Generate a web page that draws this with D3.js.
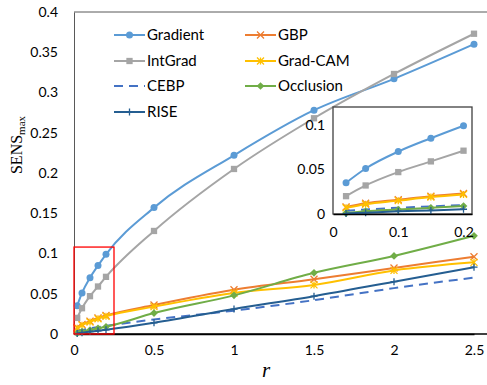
<!DOCTYPE html>
<html>
<head>
<meta charset="utf-8">
<script src="https://cdn.jsdelivr.net/npm/d3@7"></script>
<style>
body { margin: 0; background: #fff; }
text { font-family: Lato, "Liberation Sans", sans-serif; }
</style>
</head>
<body>
<div id="chart"></div>
<script>
// data
var r_values = [0.02, 0.05, 0.1, 0.15, 0.2, 0.5, 1, 1.5, 2, 2.5]
var gradient = [0.035, 0.051, 0.070, 0.085, 0.099, 0.157, 0.222, 0.278, 0.317, 0.360]
var gbp = [0.008, 0.012, 0.016, 0.020, 0.023, 0.036, 0.055, 0.068, 0.082, 0.096]
var intgrad = [0.020, 0.032, 0.047, 0.059, 0.071, 0.128, 0.205, 0.268, 0.323, 0.373]
var gradcam = [0.007, 0.011, 0.015, 0.019, 0.022, 0.034, 0.051, 0.061, 0.079, 0.089]
var cebp = [0.0035, 0.005, 0.007, 0.0085, 0.010, 0.018, 0.029, 0.042, 0.057, 0.070]
var occlusion = [0.001, 0.003, 0.005, 0.007, 0.009, 0.026, 0.048, 0.076, 0.097, 0.122]
var rise = [0.0005, 0.0015, 0.003, 0.004, 0.0053, 0.014, 0.031, 0.047, 0.065, 0.083]

var x_ticks = [0, 0.5, 1, 1.5, 2, 2.5]
var y_ticks = [0, 0.05, 0.1, 0.15, 0.2, 0.25, 0.3, 0.35, 0.4]
var inset_x_ticks = [0, 0.1, 0.2]
var inset_y_ticks = [0, 0.05, 0.1]

var series = [
    {name: "Gradient", values: gradient, color: "#5B9BD5", marker: "circle"},
    {name: "GBP", values: gbp, color: "#ED7D31", marker: "x"},
    {name: "IntGrad", values: intgrad, color: "#A5A5A5", marker: "square"},
    {name: "Grad-CAM", values: gradcam, color: "#FFC000", marker: "star"},
    {name: "CEBP", values: cebp, color: "#4472C4", marker: "none", dash: "9,6"},
    {name: "Occlusion", values: occlusion, color: "#70AD47", marker: "diamond"},
    {name: "RISE", values: rise, color: "#255E91", marker: "plus"}
]

var width = 487, height = 385
var svg = d3.select("#chart").append("svg")
    .attr("width", width)
    .attr("height", height)

var x = d3.scaleLinear().domain([0, 2.5]).range([74, 474])
var y = d3.scaleLinear().domain([0, 0.4]).range([334, 12])

// plot frame (top edge runs off the right side)
svg.append("line")
    .attr("x1", 74).attr("x2", width).attr("y1", 12).attr("y2", 12)
    .attr("stroke", "#595959").attr("stroke-width", 1)
svg.append("line")
    .attr("x1", 74).attr("x2", width).attr("y1", 334).attr("y2", 334)
    .attr("stroke", "#000").attr("stroke-width", 1.3)

var yAxis = svg.append("g")
    .attr("transform", "translate(74,0)")
    .call(d3.axisLeft(y).tickValues(y_ticks).tickSize(0).tickPadding(16).tickFormat(d3.format("")))
yAxis.select(".domain").attr("stroke", "#595959")

var xAxis = svg.append("g")
    .attr("transform", "translate(0,334)")
    .call(d3.axisBottom(x).tickValues(x_ticks).tickSize(0).tickPadding(11).tickFormat(d3.format("")))
xAxis.select(".domain").attr("stroke", "#000").attr("stroke-width", 1.3)

svg.selectAll(".tick text").attr("font-size", "14px").attr("fill", "#000")
    .style("font-family", "Lato, sans-serif")

// axis titles
var ylab = svg.append("text")
    .attr("transform", "translate(22,145) rotate(-90)")
    .attr("text-anchor", "middle")
    .style("font-family", "'Liberation Serif', serif")
    .attr("font-size", "16px")
ylab.append("tspan").text("SENS")
ylab.append("tspan").attr("font-size", "11px").attr("dy", 3).text("max")

svg.append("text")
    .attr("x", 266).attr("y", 377)
    .attr("text-anchor", "middle")
    .style("font-family", "'Liberation Serif', serif")
    .style("font-style", "italic")
    .attr("font-size", "21px")
    .text("r")

function draw_marker(g, kind, color, cx, cy, s) {
    if (kind == "circle") {
        g.append("circle").attr("cx", cx).attr("cy", cy).attr("r", s * 0.5).attr("fill", color)
    } else if (kind == "square") {
        g.append("rect").attr("x", cx - s * 0.45).attr("y", cy - s * 0.45)
            .attr("width", s * 0.9).attr("height", s * 0.9).attr("fill", color)
    } else if (kind == "diamond") {
        var h = s * 0.55
        g.append("path").attr("d", "M" + cx + "," + (cy - h) + "L" + (cx + h) + "," + cy +
            "L" + cx + "," + (cy + h) + "L" + (cx - h) + "," + cy + "Z").attr("fill", color)
    } else if (kind == "x" || kind == "star") {
        var h = s * 0.5
        var d = "M" + (cx - h) + "," + (cy - h) + "L" + (cx + h) + "," + (cy + h) +
            "M" + (cx - h) + "," + (cy + h) + "L" + (cx + h) + "," + (cy - h)
        if (kind == "star") d += "M" + cx + "," + (cy - h) + "L" + cx + "," + (cy + h)
        g.append("path").attr("d", d).attr("stroke", color).attr("stroke-width", 1.3).attr("fill", "none")
    } else if (kind == "plus") {
        var h = s * 0.5
        g.append("path").attr("d", "M" + cx + "," + (cy - h) + "L" + cx + "," + (cy + h) +
            "M" + (cx - h) + "," + cy + "L" + (cx + h) + "," + cy)
            .attr("stroke", color).attr("stroke-width", 1.3).attr("fill", "none")
    }
}

function draw_series(g, xs, ys, maxr, size) {
    series.forEach(function(s) {
        var pts = r_values.map(function(r, i) { return [r, s.values[i]] })
            .filter(function(p) { return p[0] <= maxr })
        var line = d3.line()
            .x(function(p) { return xs(p[0]) })
            .y(function(p) { return ys(p[1]) })
            .curve(d3.curveMonotoneX)
        g.append("path")
            .attr("d", line(pts))
            .attr("fill", "none")
            .attr("stroke", s.color)
            .attr("stroke-width", 2)
            .attr("stroke-dasharray", s.dash || null)
        pts.forEach(function(p) {
            draw_marker(g, s.marker, s.color, xs(p[0]), ys(p[1]), size)
        })
    })
}

var main = svg.append("g")
draw_series(main, x, y, 2.5, 7)

// legend
var legend_pos = [[114, 35], [245, 35], [114, 61], [245, 61], [114, 86], [245, 86], [114, 112]]
series.forEach(function(s, i) {
    var lg = svg.append("g")
    var lx = legend_pos[i][0], ly = legend_pos[i][1]
    lg.append("line")
        .attr("x1", lx).attr("x2", lx + 31).attr("y1", ly).attr("y2", ly)
        .attr("stroke", s.color).attr("stroke-width", 2)
        .attr("stroke-dasharray", s.dash || null)
    draw_marker(lg, s.marker, s.color, lx + 15.5, ly, 7)
    lg.append("text")
        .attr("x", lx + 33).attr("y", ly + 5)
        .attr("font-size", "15px")
        .text(s.name)
})

// zoom box on main chart
svg.append("rect")
    .attr("x", x(0)).attr("y", y(0.108))
    .attr("width", x(0.25) - x(0)).attr("height", y(0) - y(0.108))
    .attr("fill", "none").attr("stroke", "#FF0000").attr("stroke-width", 1.3)

// inset
var ix = d3.scaleLinear().domain([0, 0.213]).range([333, 472])
var iy = d3.scaleLinear().domain([0, 0.12]).range([214, 107])

svg.append("rect")
    .attr("x", 333).attr("y", 107)
    .attr("width", 139).attr("height", 107)
    .attr("fill", "#fff").attr("stroke", "#404040").attr("stroke-width", 1.3)

var inset = svg.append("g")
draw_series(inset, ix, iy, 0.2, 7)

var ixAxis = svg.append("g")
    .attr("transform", "translate(0,214)")
    .call(d3.axisBottom(ix).tickValues(inset_x_ticks).tickSize(0).tickPadding(13).tickFormat(d3.format("")))
ixAxis.select(".domain").attr("stroke", "#000").attr("stroke-width", 1.3)
var iyAxis = svg.append("g")
    .attr("transform", "translate(333,0)")
    .call(d3.axisLeft(iy).tickValues(inset_y_ticks).tickSize(0).tickPadding(8).tickFormat(d3.format("")))
iyAxis.select(".domain").remove()
ixAxis.selectAll(".tick text").attr("font-size", "14px").style("font-family", "Lato, sans-serif")
iyAxis.selectAll(".tick text").attr("font-size", "14px").style("font-family", "Lato, sans-serif")
</script>
</body>
</html>
